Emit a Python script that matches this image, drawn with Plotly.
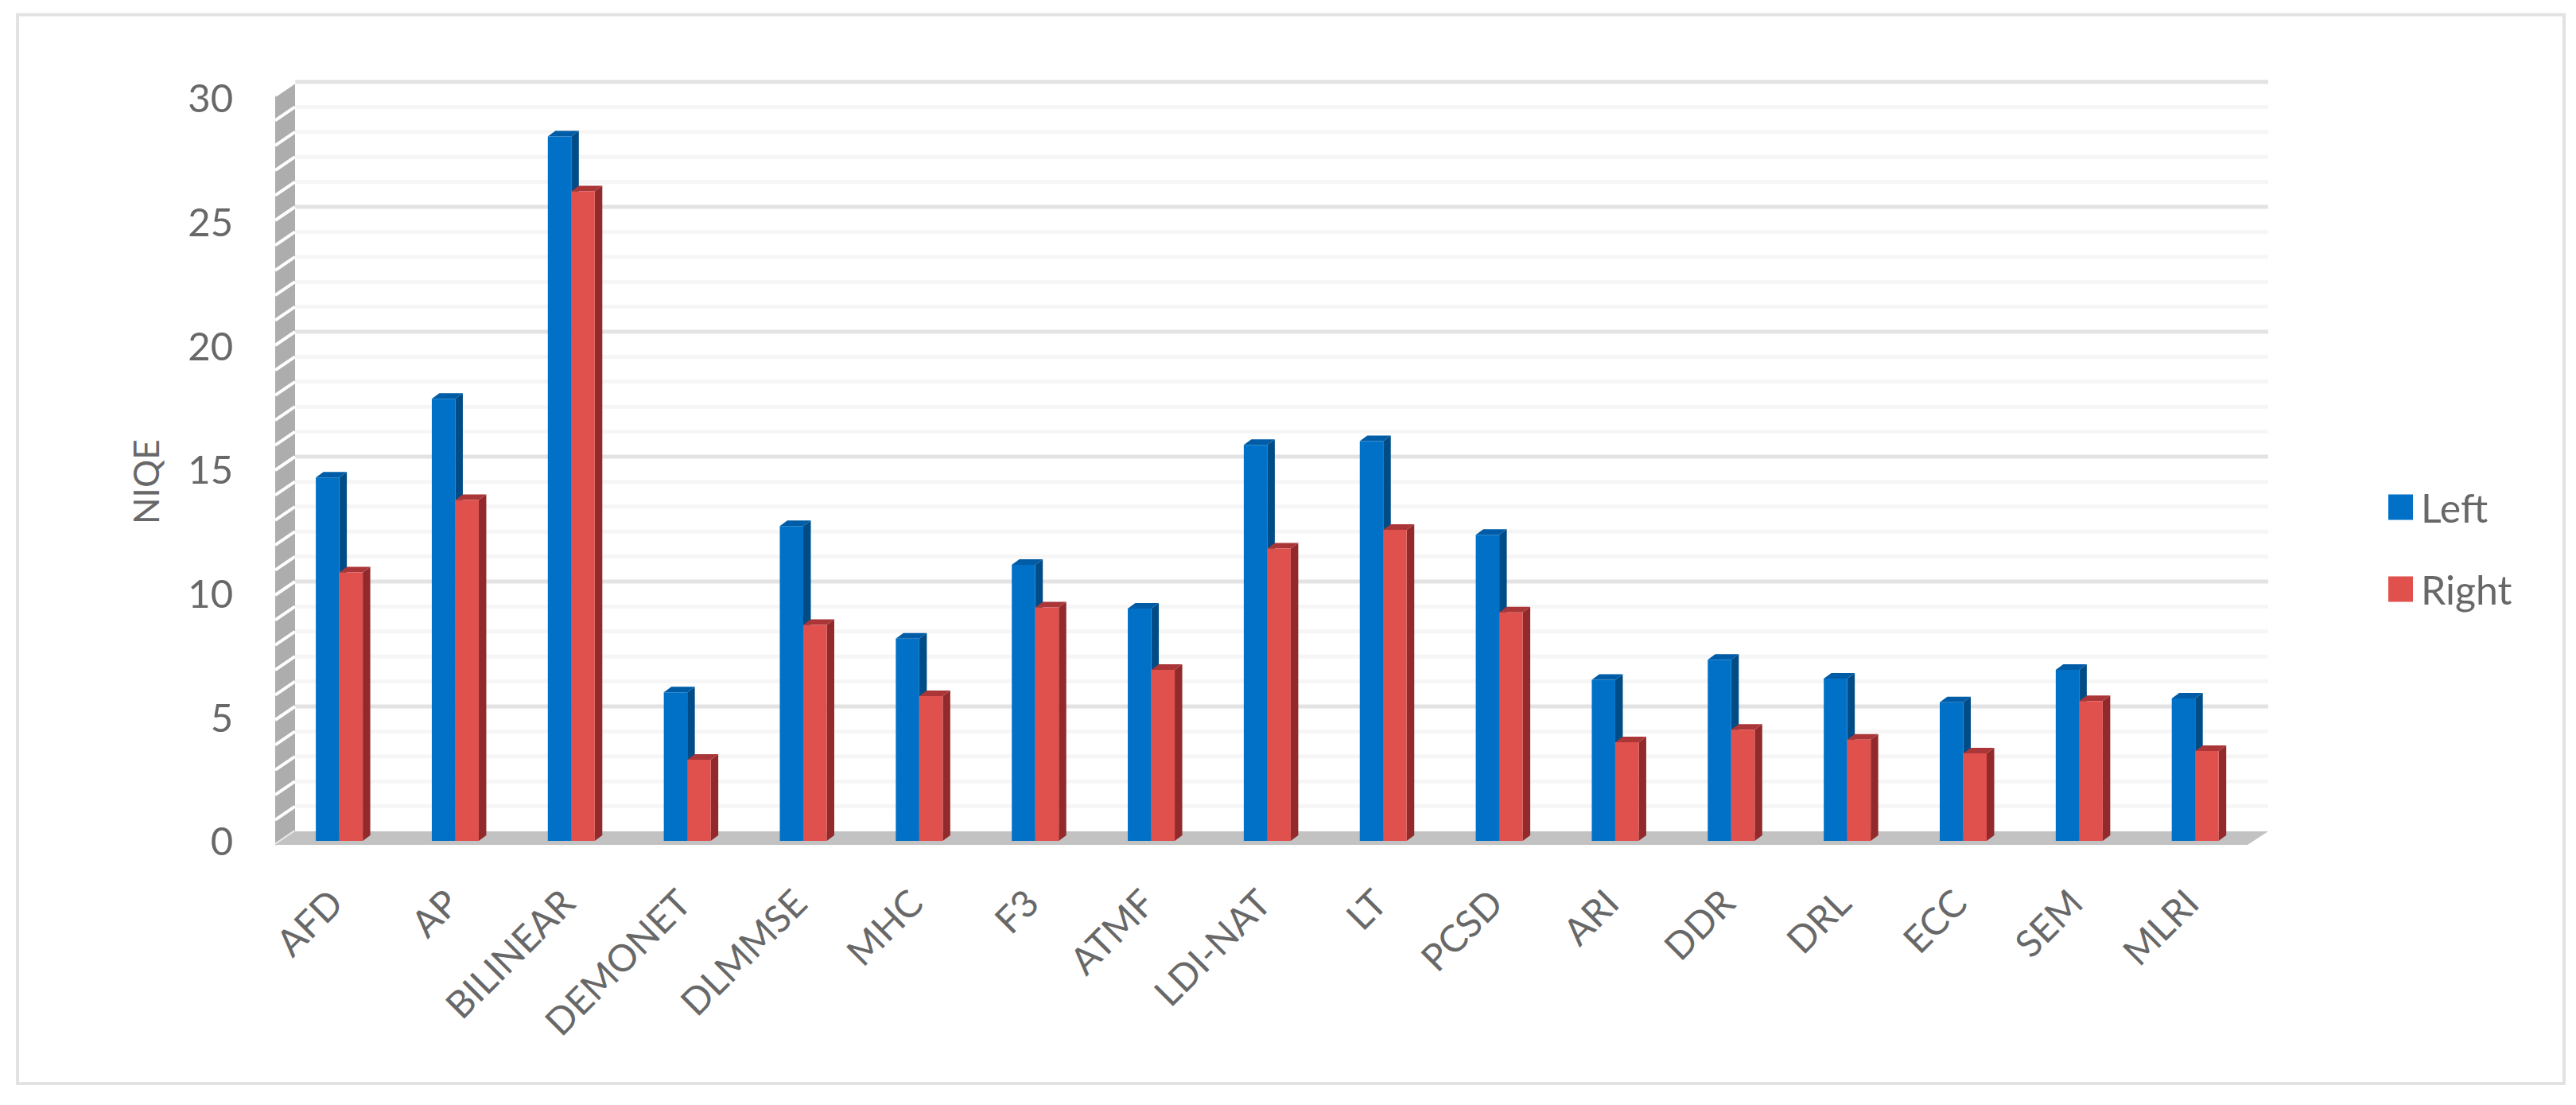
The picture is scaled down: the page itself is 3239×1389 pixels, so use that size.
import plotly.graph_objects as go

categories = ["AFD","AP","BILINEAR","DEMONET","DLMMSE","MHC","F3","ATMF","LDI-NAT","LT","PCSD","ARI","DDR","DRL","ECC","SEM","MLRI"]
left = [14.55,17.7,28.2,5.95,12.6,8.1,11.05,9.3,15.85,16.0,12.25,6.45,7.25,6.5,5.55,6.85,5.7]
right = [10.75,13.65,26.0,3.25,8.65,5.8,9.35,6.85,11.7,12.45,9.15,3.95,4.45,4.05,3.5,5.6,3.6]
y_ticks = [0,5,10,15,20,25,30]
y_title = "NIQE"

W, H = 3239, 1389
PL, PR, PT, PB = 340, 2870, 95, 1070      # plot area in page pixels
X0, XS = 426.6, 145.85                    # first category centre, px per category
Y0, YS = 1057.0, 31.4                     # value 0 position, px per unit
x_range = [(PL-X0)/XS, (PR-X0)/XS]
y_range = [(Y0-PB)/YS, (Y0-PT)/YS]
y2_range = [(1058-PB)/31.13, (1058-PT)/31.13]

BAR_W = 29.5/XS
DX, DY = 9.5/XS, 7/YS                     # bar depth
WALL_F, WALL_B = (346-X0)/XS, (371-X0)/XS
GRID_R = (2852-X0)/XS
FLOOR_FR = (2826-X0)/XS
WF_DY, WB_DY = -5/YS, 12/YS               # wall offset from value (front, back)

GREY_WALL, GREY_FLOOR = "#adadad", "#c2c2c2"
C = {"L": ("#0071c6", "#005ca6", "#004c86"), "R": ("#e0504d", "#aa3638", "#922a2b")}
shapes = []

def poly(pts, fill, line=None, w=0):
    p = "M" + "L".join(f"{x},{y}" for x, y in pts) + "Z"
    shapes.append(dict(type="path", path=p, xref="x", yref="y", fillcolor=fill,
                       line=dict(color=line or fill, width=w), layer="below"))

def seg(x1, y1, x2, y2, col, w):
    shapes.append(dict(type="line", x0=x1, y0=y1, x1=x2, y1=y2, xref="x", yref="y",
                       line=dict(color=col, width=w), layer="below"))

# back wall grid
for v in range(0, 31):
    major = v % 5 == 0
    if v:
        seg(WALL_B, v+WB_DY, GRID_R, v+WB_DY, "#e3e3e3" if major else "#f6f6f6", 5)
# side wall and floor
poly([(WALL_F, 0+WF_DY), (WALL_F, 30+WF_DY), (WALL_B, 30+WB_DY), (WALL_B, 0+WB_DY)], GREY_WALL)
for v in range(0, 31):
    seg(WALL_F, v+WF_DY, WALL_B, v+WB_DY, "#ffffff" if 0 < v else "#e8e8e8", 4)
poly([(WALL_F, WF_DY), (WALL_B, WB_DY), (GRID_R, WB_DY), (FLOOR_FR, WF_DY)], GREY_FLOOR)

# bar depth faces
for i in range(len(categories)):
    for vals, key, x_l in ((left, "L", i-BAR_W), (right, "R", i)):
        v = vals[i]; x_r = x_l+BAR_W
        _, top, side = C[key]
        poly([(x_r, 0), (x_r+DX, DY), (x_r+DX, v+DY), (x_r, v)], side)
        poly([(x_l, v), (x_l+DX, v+DY), (x_r+DX, v+DY), (x_r, v)], top)

fig = go.Figure()
for name, vals, key in (("Left", left, "L"), ("Right", right, "R")):
    fig.add_trace(go.Bar(name=name, x=categories, y=vals, marker=dict(color=C[key][0], line=dict(width=0)),
                         legendgroup=name, hoverinfo="x+y+name"))
fig.add_trace(go.Scatter(x=[categories[0]]*len(y_ticks), y=y_ticks, yaxis="y2", mode="markers",
                         marker=dict(opacity=0), showlegend=False, hoverinfo="skip"))

TXT = "#686868"
FONT = "Lato"
fig.update_layout(
    width=W, height=H, autosize=False, margin=dict(l=0, r=0, t=0, b=0, autoexpand=False),
    paper_bgcolor="white", plot_bgcolor="rgba(0,0,0,0)",
    barmode="group", bargap=1-2*BAR_W, bargroupgap=0,
    font=dict(family=FONT, color=TXT),
    shapes=shapes + [dict(type="rect", xref="paper", yref="paper", x0=22/W, x1=3224/W,
                          y0=1-1362/H, y1=1-18.5/H, line=dict(color="#e2e2e2", width=4),
                          fillcolor="rgba(0,0,0,0)", layer="below")],
    annotations=[dict(text=y_title, textangle=-90, xref="paper", yref="paper", x=183/W, y=1-606/H,
                      showarrow=False, xanchor="center", yanchor="middle",
                      font=dict(size=44, family=FONT, color=TXT))],
    xaxis=dict(domain=[PL/W, PR/W], range=x_range, type="category", categoryorder="array",
               categoryarray=categories, tickangle=-45, showgrid=False, zeroline=False,
               showline=False, ticks="outside", ticklen=18, tickcolor="rgba(0,0,0,0)",
               ticklabelshift=-9,
               automargin=False, tickfont=dict(size=47, family=FONT, color=TXT)),
    yaxis=dict(domain=[1-PB/H, 1-PT/H], range=y_range, visible=False, showgrid=False, zeroline=False),
    yaxis2=dict(overlaying="y", side="left", anchor="x", range=y2_range, tickvals=y_ticks,
                showgrid=False, zeroline=False, showline=False, automargin=False,
                ticks="outside", ticklen=36, tickcolor="rgba(0,0,0,0)",
                tickfont=dict(size=49, family=FONT, color=TXT)),
    legend=dict(x=2993/W, y=1-689/H, xanchor="left", yanchor="middle", yref="paper",
                orientation="v", traceorder="grouped", tracegroupgap=35, itemwidth=41,
                font=dict(size=50, family=FONT, color=TXT), bgcolor="rgba(0,0,0,0)"),
    showlegend=True,
)

post = """
document.body.style.margin='0';
var gd=document.getElementById('{plot_id}');
gd.querySelectorAll('.legendbar, .legendpoints path').forEach(function(p){
  p.setAttribute('d','M15.5,16H-15.5V-16H15.5Z');
});
"""
fig.write_html("out.html", post_script=post, config=dict(displayModeBar=False))
